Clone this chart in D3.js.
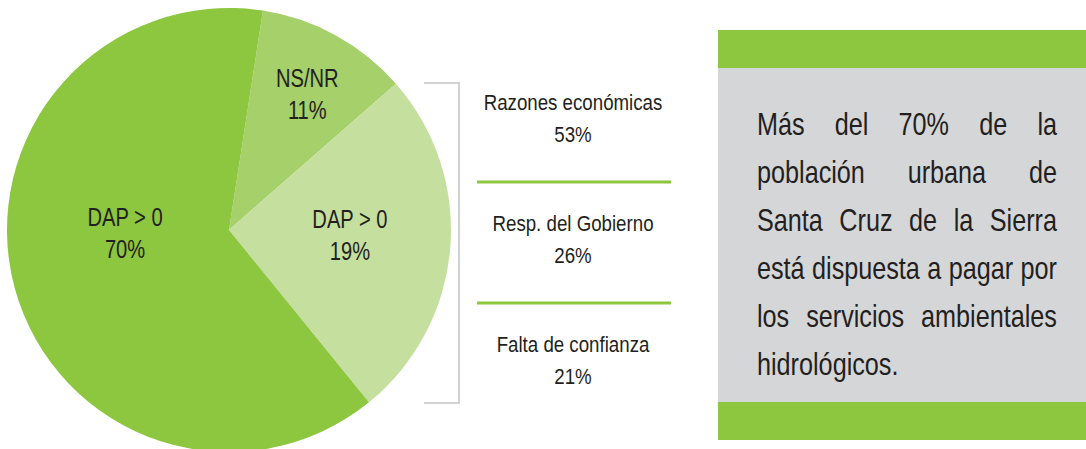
<!DOCTYPE html>
<html>
<head>
<meta charset="utf-8">
<script src="https://cdn.jsdelivr.net/npm/d3@7"></script>
<style>
  html, body { margin: 0; padding: 0; background: #fff; }
  svg { display: block; }
  text { font-family: "Liberation Sans", Arial, sans-serif; fill: #231f20; }
</style>
</head>
<body>
<div id="chart"></div>
<script>
// slices, clockwise from the NS/NR wedge
const sliceNames = [`NS/NR`, `DAP > 0`, `DAP > 0`];
const slicePercents = [`11%`, `19%`, `70%`];
// wedge sizes as drawn in the picture (the artwork is not to scale)
const sliceShares = [11.1, 25.6, 63.3];
const sliceColors = [`#a5d06a`, `#c5e09e`, `#8dc63f`];

const reasons = [`Razones económicas`, `Resp. del Gobierno`, `Falta de confianza`];
const reasonPercents = [53, 26, 21];

const noteLines = [
  `Más del 70% de la`,
  `población urbana de`,
  `Santa Cruz de la Sierra`,
  `está dispuesta a pagar por`,
  `los servicios ambientales`,
  `hidrológicos.`
];

const width = 1086;
const height = 449;
const cx = 229, cy = 230, radius = 222;
const startDeg = 8.8;
// label anchor (angle in degrees clockwise from top, distance from centre)
const labelPolar = [{ a: 29.7, r: 158 }, { a: 92, r: 121 }, { a: 269, r: 104 }];

// no condensed face is installed, so squeeze a regular one
const narrow = (sel, x, y, sx) => sel.attr(`transform`, `translate(${x},${y}) scale(${sx},1)`);

const svg = d3.select(`#chart`).append(`svg`)
  .attr(`width`, width)
  .attr(`height`, height);

// ---- pie
const pie = d3.pie()
  .sort(null)
  .startAngle(startDeg * Math.PI / 180)
  .endAngle(startDeg * Math.PI / 180 + 2 * Math.PI);

const arc = d3.arc().innerRadius(0).outerRadius(radius);

const pieG = svg.append(`g`).attr(`transform`, `translate(${cx},${cy})`);

pieG.selectAll(`path`)
  .data(pie(sliceShares))
  .enter().append(`path`)
    .attr(`d`, arc)
    .style(`fill`, (d, i) => sliceColors[i]);

const labels = pieG.selectAll(`g.label`)
  .data(sliceNames)
  .enter().append(`g`)
    .attr(`class`, `label`)
    .attr(`transform`, (d, i) => {
      const p = labelPolar[i];
      const t = p.a * Math.PI / 180;
      return `translate(${p.r * Math.sin(t)},${-p.r * Math.cos(t)})`;
    });

labels.append(`text`)
  .attr(`text-anchor`, `middle`)
  .style(`font-size`, `26.5px`)
  .call(narrow, 0, -6, 0.76)
  .text((d) => d);

labels.append(`text`)
  .attr(`text-anchor`, `middle`)
  .style(`font-size`, `26.5px`)
  .call(narrow, 0, 26, 0.76)
  .text((d, i) => slicePercents[i]);

// ---- bracket
const bracketX = 459, bracketTop = 83, bracketBottom = 403, bracketLeft = 424;
svg.append(`path`)
  .attr(`d`, `M${bracketLeft},${bracketTop}H${bracketX}V${bracketBottom}H${bracketLeft}`)
  .style(`fill`, `none`)
  .style(`stroke`, `#d1d2d4`)
  .style(`stroke-width`, 2);

// ---- reasons list
const rowY = d3.scalePoint()
  .domain(reasons)
  .range([110, 352]);

const reasonX = 573;
const rows = svg.selectAll(`g.reason`)
  .data(reasons)
  .enter().append(`g`)
    .attr(`class`, `reason`)
    .attr(`transform`, (d) => `translate(${reasonX},${rowY(d)})`);

rows.append(`text`)
  .attr(`text-anchor`, `middle`)
  .style(`font-size`, `22px`)
  .call(narrow, 0, 0, 0.85)
  .text((d) => d);

rows.append(`text`)
  .attr(`text-anchor`, `middle`)
  .style(`font-size`, `22px`)
  .call(narrow, 0, 32, 0.85)
  .text((d, i) => `${reasonPercents[i]}%`);

svg.selectAll(`line.sep`)
  .data(reasons.slice(1))
  .enter().append(`line`)
    .attr(`class`, `sep`)
    .attr(`x1`, 477)
    .attr(`x2`, 671)
    .attr(`y1`, (d) => rowY(d) - 49)
    .attr(`y2`, (d) => rowY(d) - 49)
    .style(`stroke`, `#8dc63f`)
    .style(`stroke-width`, 3);

// ---- note box
const boxX = 718;
svg.append(`rect`)
  .attr(`x`, boxX).attr(`y`, 30)
  .attr(`width`, width - boxX).attr(`height`, 38)
  .style(`fill`, `#8dc63f`);
svg.append(`rect`)
  .attr(`x`, boxX).attr(`y`, 68)
  .attr(`width`, width - boxX).attr(`height`, 334)
  .style(`fill`, `#d5d6d8`);
svg.append(`rect`)
  .attr(`x`, boxX).attr(`y`, 402)
  .attr(`width`, width - boxX).attr(`height`, 38)
  .style(`fill`, `#8dc63f`);

const textLeft = 757, textRight = 1057, noteSx = 0.8;
const lineY = d3.scalePoint()
  .domain(d3.range(noteLines.length))
  .range([135, 375]);

noteLines.forEach((line, li) => {
  const words = line.split(` `);
  const g = svg.append(`g`).attr(`transform`, `translate(0,${lineY(li)})`);
  const nodes = words.map((w) => g.append(`text`)
    .style(`font-size`, `31.5px`)
    .text(w));
  const widths = nodes.map((n) => n.node().getComputedTextLength() * noteSx);
  const total = d3.sum(widths);
  const last = li === noteLines.length - 1;
  const space = last ? 7 : (textRight - textLeft - total) / Math.max(1, words.length - 1);
  let x = textLeft;
  nodes.forEach((n, i) => {
    n.call(narrow, x, 0, noteSx);
    x += widths[i] + space;
  });
});
</script>
</body>
</html>
